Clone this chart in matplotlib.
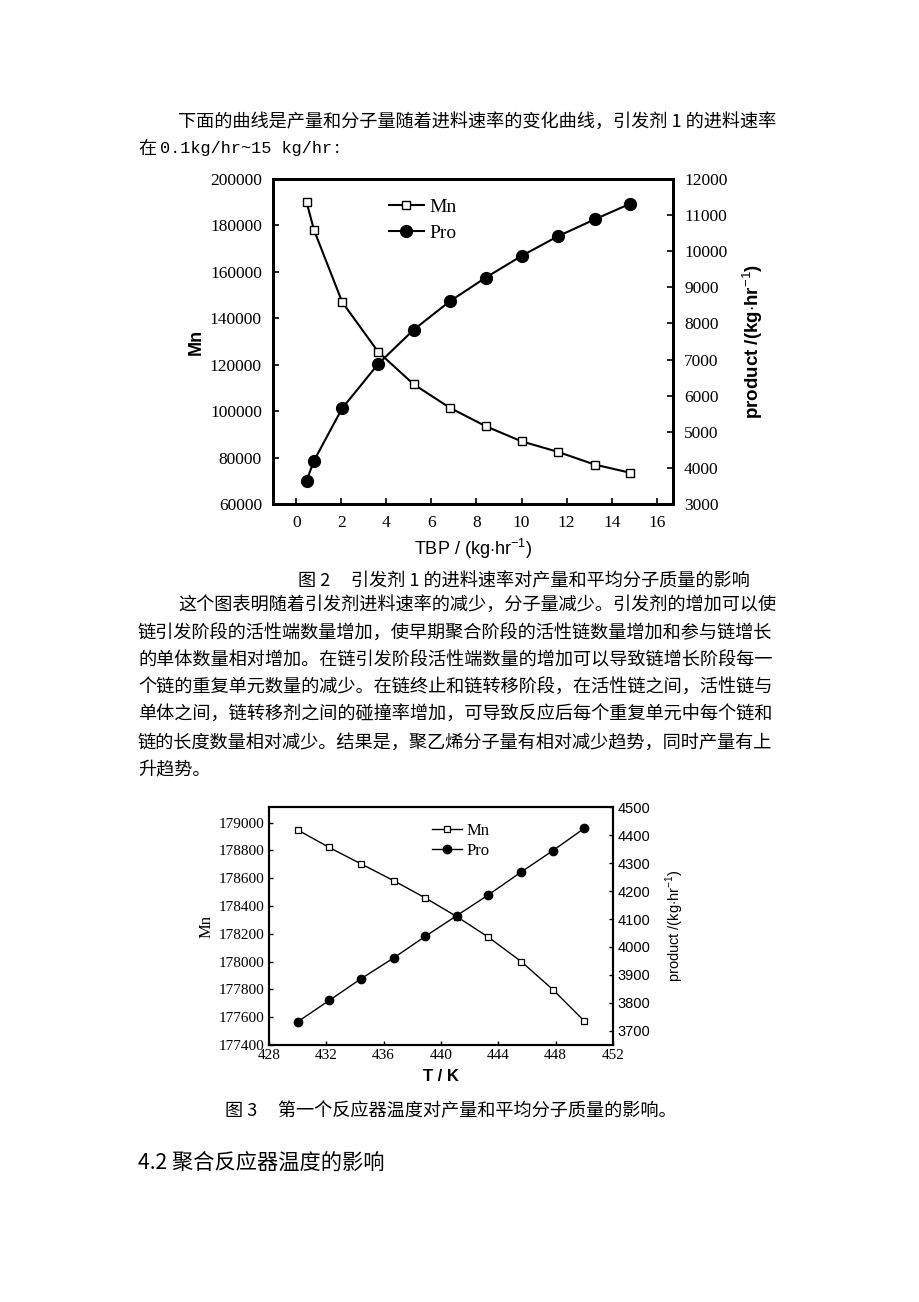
import matplotlib
matplotlib.use('Agg')
import matplotlib.pyplot as plt

plt.rcParams['font.family'] = ['Noto Sans CJK SC', 'DejaVu Sans']
plt.rcParams['mathtext.fontset'] = 'custom'
plt.rcParams['mathtext.rm'] = 'Liberation Sans'

# 图2 数据
tbp = [0.46, 0.79, 2.04, 3.64, 5.22, 6.81, 8.41, 10.0, 11.6, 13.24, 14.8]
mn_tbp = [190000, 178000, 147000, 125500, 111500, 101500, 93500, 87000, 82500, 77000, 73500]
pro_tbp = [3650, 4200, 5650, 6880, 7830, 8610, 9270, 9870, 10410, 10880, 11310]

# 图3 数据
temp = [430, 432.2, 434.4, 436.7, 438.9, 441.1, 443.3, 445.6, 447.8, 450]
mn_temp = [178947, 178821, 178704, 178582, 178458, 178324, 178176, 178000, 177799, 177572]
pro_temp = [3733, 3809, 3886, 3961, 4038, 4112, 4186, 4268, 4344, 4424]

W, H = 920, 1302
fig = plt.figure(figsize=(W / 100, H / 100), dpi=100)
fig.patch.set_facecolor('white')


def ftext(x, y, s, **kw):
    # 像素坐标 -> 图形坐标
    fig.text(x / W, 1 - y / H, s, va='center', **kw)


def add_ax(l, t, r, b):
    return fig.add_axes([l / W, 1 - b / H, (r - l) / W, (b - t) / H])


serif = 'Liberation Serif'
sans = 'Liberation Sans'
body = 13.1

# ---- 正文 ----
ftext(178, 123, '下面的曲线是产量和分子量随着进料速率的变化曲线，引发剂 1 的进料速率', fontsize=body)
ftext(138, 149, '在', fontsize=body)
ftext(160, 149, '0.1kg/hr~15 kg/hr:', fontsize=12.2, family='Liberation Mono')

# ---- 图2 ----
ax1 = add_ax(273, 179, 673, 504)
ax1b = ax1.twinx()
l1, = ax1.plot(tbp, mn_tbp, '-s', color='black', lw=1.5, ms=6, mfc='white', mew=1.0, label='Mn')
l2, = ax1b.plot(tbp, pro_tbp, '-o', color='black', lw=1.5, ms=8.5, label='Pro')
ax1.set_xlim(-1.03, 16.72)
ax1.set_ylim(60000, 200000)
ax1b.set_ylim(3000, 12000)
ax1.set_xticks(range(0, 17, 2))
ax1.set_yticks(range(60000, 200001, 20000))
ax1b.set_yticks(range(3000, 12001, 1000))
for a in (ax1, ax1b):
    a.tick_params(direction='in', length=4, width=1.2, labelsize=12.5, pad=8)
    for lab in a.get_xticklabels() + a.get_yticklabels():
        lab.set_family(serif)
    for sp in a.spines.values():
        sp.set_linewidth(2.0)
ax1.set_ylabel('Mn', family=sans, fontsize=13, fontweight='bold', labelpad=4)
ax1b.set_ylabel(r'product /(kg$\cdot$hr$^{-1}$)', family=sans, fontsize=13.5,
                fontweight='bold', labelpad=9)
ax1.set_xlabel(r'TBP / (kg$\cdot$hr$^{-1}$)', family=sans, fontsize=13, labelpad=4)
ax1.legend(handles=[l1, l2], loc='upper left', bbox_to_anchor=(0.245, 0.995), frameon=False,
           prop={'family': serif, 'size': 14}, handlelength=1.8, handletextpad=0.3,
           labelspacing=0.45)

ftext(298, 581, '图 2     引发剂 1 的进料速率对产量和平均分子质量的影响', fontsize=body)

para = [
    (178, '这个图表明随着引发剂进料速率的减少，分子量减少。引发剂的增加可以使'),
    (138, '链引发阶段的活性端数量增加，使早期聚合阶段的活性链数量增加和参与链增长'),
    (138, '的单体数量相对增加。在链引发阶段活性端数量的增加可以导致链增长阶段每一'),
    (138, '个链的重复单元数量的减少。在链终止和链转移阶段，在活性链之间，活性链与'),
    (138, '单体之间，链转移剂之间的碰撞率增加，可导致反应后每个重复单元中每个链和'),
    (138, '链的长度数量相对减少。结果是，聚乙烯分子量有相对减少趋势，同时产量有上'),
    (138, '升趋势。'),
]
for i, (x0, line) in enumerate(para):
    ftext(x0, 606 + i * 27.3, line, fontsize=body)

# ---- 图3 ----
ax2 = add_ax(269, 807, 613, 1045)
ax2b = ax2.twinx()
m1, = ax2.plot(temp, mn_temp, '-s', color='black', lw=1.0, ms=5, mfc='white', mew=0.9, label='Mn')
m2, = ax2b.plot(temp, pro_temp, '-o', color='black', lw=1.0, ms=6, label='Pro')
ax2.set_xlim(428, 452)
ax2.set_ylim(177400, 179112)
ax2b.set_ylim(3650, 4500)
ax2.set_xticks(range(428, 453, 4))
ax2.set_yticks(range(177400, 179001, 200))
ax2b.set_yticks(range(3700, 4501, 100))
for a in (ax2, ax2b):
    a.tick_params(direction='in', length=3, width=1.0, labelsize=11, pad=3)
    for sp in a.spines.values():
        sp.set_linewidth(1.5)
for lab in ax2.get_xticklabels() + ax2.get_yticklabels():
    lab.set_family(serif)
for lab in ax2b.get_yticklabels():
    lab.set_family(sans)
    lab.set_fontsize(10.5)
ax2.set_ylabel('Mn', family=serif, fontsize=12, labelpad=3)
ax2b.set_ylabel(r'product /(kg$\cdot$hr$^{-1}$)', family=sans, fontsize=10.5, labelpad=10)
ax2.set_xlabel('T / K', family=sans, fontsize=12, fontweight='bold', labelpad=5)
ax2.legend(handles=[m1, m2], loc='upper left', bbox_to_anchor=(0.43, 0.995), frameon=False,
           prop={'family': serif, 'size': 12}, handlelength=1.8, handletextpad=0.3,
           labelspacing=0.2)

ftext(225, 1111, '图 3     第一个反应器温度对产量和平均分子质量的影响。', fontsize=body)
ftext(138, 1163, '4.2 聚合反应器温度的影响', fontsize=15.3)

fig.savefig('out.png', dpi=100)
